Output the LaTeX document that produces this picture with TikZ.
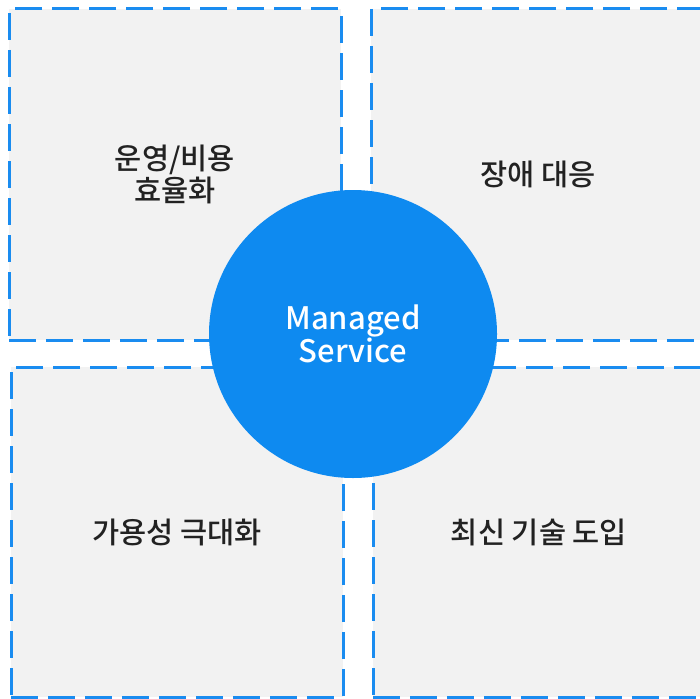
\documentclass[tikz,border=0pt]{standalone}
\usepackage{fontspec}
\setmainfont{Noto Sans CJK KR}[UprightFont=* Medium]
\usepackage{tikz}
\definecolor{boxgray}{HTML}{F2F2F2}
\definecolor{dashblue}{HTML}{1A8CF0}
\definecolor{circleblue}{HTML}{0E8AF0}
\definecolor{labeltext}{HTML}{222222}

\begin{document}
\begin{tikzpicture}[x=1pt, y=-1pt,
  quad/.style={rectangle, fill=boxgray, draw=dashblue, line width=3pt,
    dash pattern=on 27pt off 10pt, text=labeltext, align=center,
    font=\fontsize{29.5}{32}\selectfont, inner sep=0pt},
  hub/.style={circle, fill=circleblue, text=white, align=center,
    minimum size=288pt, inner sep=0pt,
    font=\fontsize{31}{33}\selectfont}]

% Page size
\useasboundingbox (0,0) rectangle (700,698);
\clip (0,0) rectangle (700,698);

% Four quadrants
\node[quad, minimum width=332pt, minimum height=331pt] (cost) at (175,174.5) {운영/비용\\효율화};
\node[quad, minimum width=334pt, minimum height=331pt] (fault) at (538,174.5) {장애 대응};
\node[quad, minimum width=332pt, minimum height=330pt] (avail) at (177,532) {가용성 극대화};
\node[quad, minimum width=332pt, minimum height=330pt] (tech) at (539,532) {최신 기술 도입};

% Centre circle
\node[hub] (managed) at (353,334) {Managed\\Service};

\end{tikzpicture}
\end{document}
